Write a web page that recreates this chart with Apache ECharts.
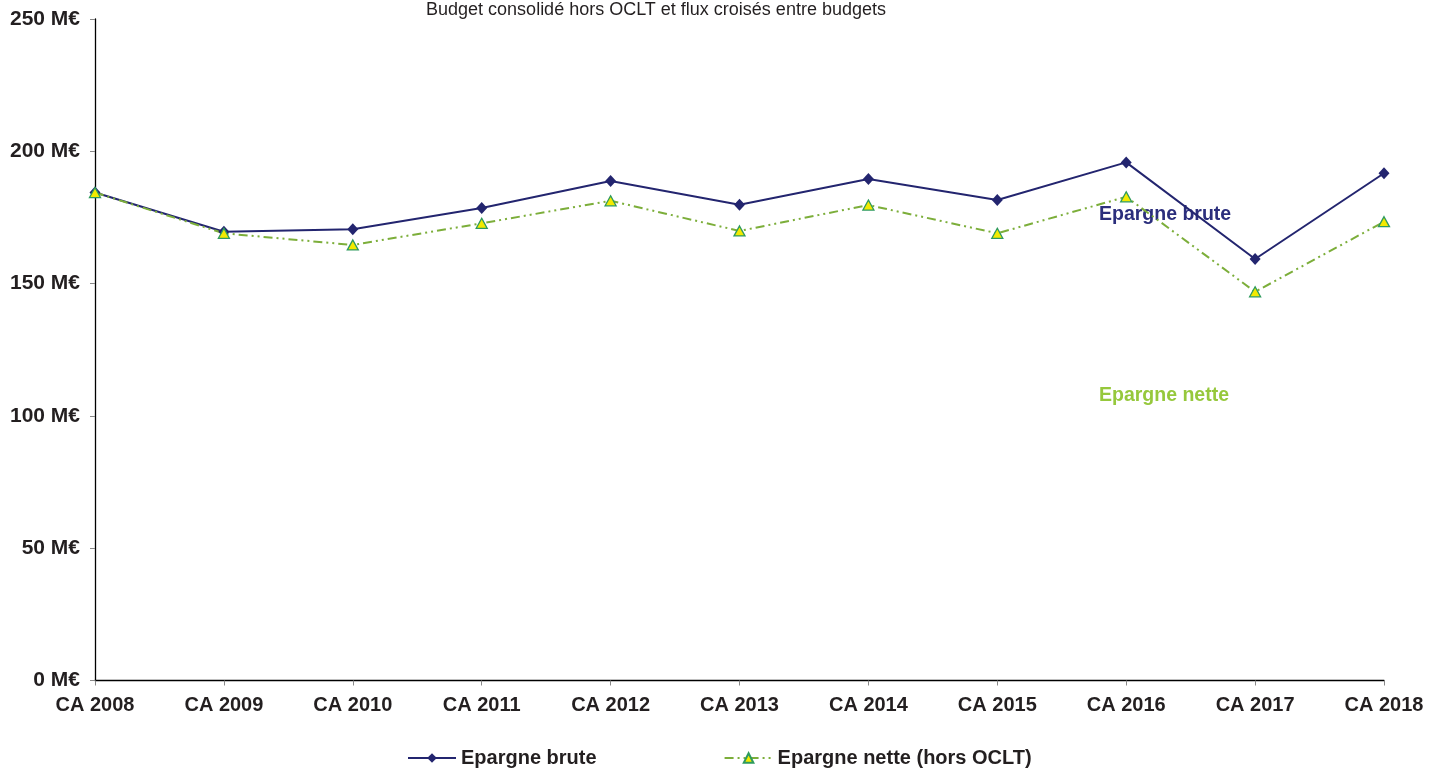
<!DOCTYPE html>
<html>
<head>
<meta charset="utf-8">
<title>Epargne brute / Epargne nette</title>
<script src="https://cdn.jsdelivr.net/npm/echarts@6/dist/echarts.min.js"></script>
<style>
    html, body { margin: 0; padding: 0; background: #fff; }
    #chart { width: 1445px; height: 776px; }
</style>
</head>
<body>
<div id="chart"></div>
<script>
// données (M€)
let years = ['CA 2008', 'CA 2009', 'CA 2010', 'CA 2011', 'CA 2012', 'CA 2013', 'CA 2014', 'CA 2015', 'CA 2016', 'CA 2017', 'CA 2018'];
let epargneBrute = [184.4, 169.6, 170.5, 178.6, 188.8, 179.8, 189.5, 181.6, 195.8, 159.3, 191.7];
let epargneNette = [184.4, 169.0, 164.6, 172.8, 181.3, 169.9, 179.7, 169.0, 182.8, 146.9, 173.4];

let fontFam = '"Liberation Sans", Arial, sans-serif';

let myChart = echarts.init(document.getElementById('chart'));
let option = {
    animation: false,
    textStyle: {fontFamily: fontFam},
    grid: {
        left: 95,
        right: 61,
        top: 19,
        bottom: 95.5
    },
    legend: {
        left: 402,
        top: 743,
        itemWidth: 48,
        itemHeight: 12,
        itemGap: 127,
        textStyle: {fontSize: 20, fontWeight: 'bold', color: '#231f20', fontFamily: fontFam},
        data: ['Epargne brute', 'Epargne nette (hors OCLT)']
    },
    graphic: [
        {
            type: 'text',
            x: 656,
            y: 19,
            style: {
                text: 'Budget consolidé hors OCLT et flux croisés entre budgets',
                fill: '#231f20',
                font: '18px ' + fontFam,
                textAlign: 'center',
                textVerticalAlign: 'bottom'
            }
        },
        {
            type: 'text',
            x: 1099,
            y: 215,
            style: {
                text: 'Epargne brute',
                fill: '#2b2e7c',
                font: 'bold 19.5px ' + fontFam,
                textAlign: 'left',
                textVerticalAlign: 'middle'
            }
        },
        {
            type: 'text',
            x: 1099,
            y: 396,
            style: {
                text: 'Epargne nette',
                fill: '#96c83c',
                font: 'bold 19.5px ' + fontFam,
                textAlign: 'left',
                textVerticalAlign: 'middle'
            }
        }
    ],
    xAxis: {
        type: 'category',
        data: years,
        boundaryGap: false,
        axisLine: {lineStyle: {color: '#000', width: 1.3}},
        axisTick: {show: true, length: 5, lineStyle: {color: '#888'}},
        axisLabel: {margin: 15, fontSize: 20, fontWeight: 'bold', color: '#231f20', fontFamily: fontFam},
        splitLine: {show: false}
    },
    yAxis: {
        type: 'value',
        min: 0,
        max: 250,
        interval: 50,
        axisLine: {show: true, lineStyle: {color: '#000', width: 1.3}},
        axisTick: {show: true, length: 5, lineStyle: {color: '#888'}},
        axisLabel: {
            margin: 15,
            fontSize: 21,
            fontWeight: 'bold',
            color: '#231f20',
            fontFamily: fontFam,
            formatter: '{value} M€'
        },
        splitLine: {show: false}
    },
    series: [
        {
            name: 'Epargne brute',
            type: 'line',
            data: epargneBrute,
            symbol: 'diamond',
            symbolSize: [11, 12],
            lineStyle: {color: '#23256f', width: 2},
            itemStyle: {color: '#23256f', borderColor: '#23256f', borderWidth: 0}
        },
        {
            name: 'Epargne nette (hors OCLT)',
            type: 'line',
            data: epargneNette,
            symbol: 'triangle',
            symbolSize: [11, 10],
            lineStyle: {color: '#7cae3a', width: 2, type: [9, 4, 2, 4, 2, 4]},
            itemStyle: {color: '#f3ea00', borderColor: '#2e9a5e', borderWidth: 1.3}
        }
    ]
};
myChart.setOption(option);
</script>
</body>
</html>
